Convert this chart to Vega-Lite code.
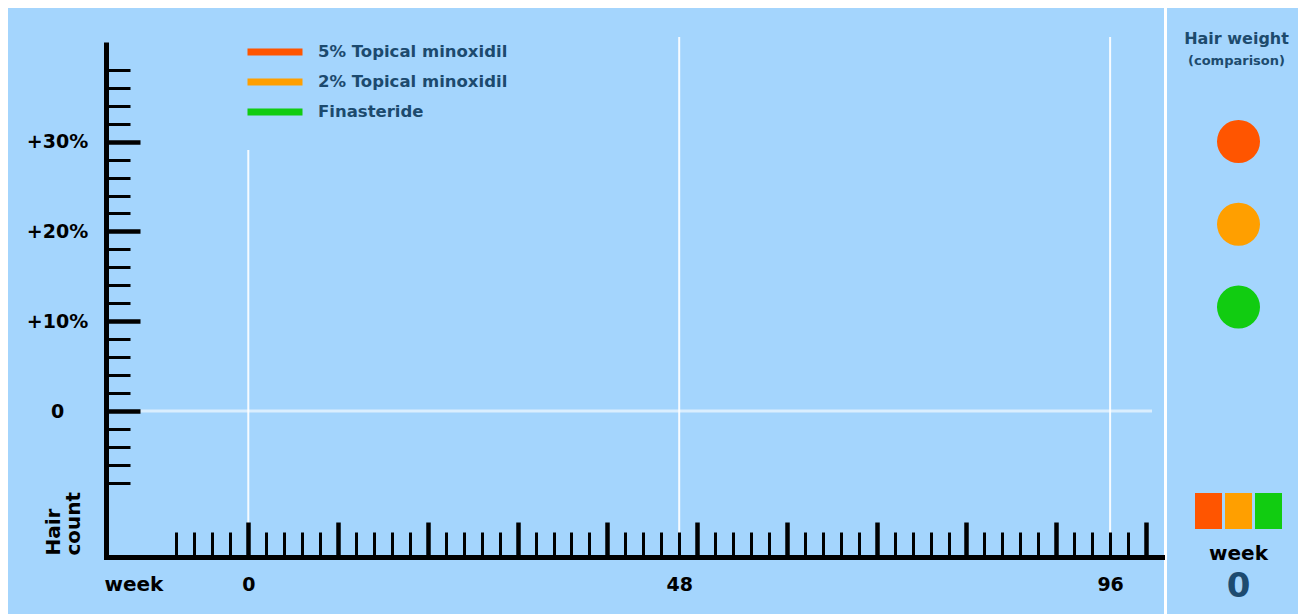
{
  "$schema": "https://vega.github.io/schema/vega-lite/v6.json",
  "background": "#ffffff",
  "padding": {"left": 8, "top": 8, "right": 0, "bottom": 0},
  "config": {"view": {"fill": "#a4d5fd", "stroke": null}, "font": "DejaVu Sans"},
  "spacing": 3,
  "bounds": "flush",
  "resolve": {"scale": {"color": "independent", "x": "independent", "y": "independent"}, "legend": {"color": "independent"}},
  "hconcat": [
    {
      "width": 1156,
      "height": 606,
      "layer": [
        {
          "data": {"values": [{"series": "5% Topical minoxidil", "week": 0, "change": 0}, {"series": "2% Topical minoxidil", "week": 0, "change": 0}, {"series": "Finasteride", "week": 0, "change": 0}]},
          "mark": {"type": "line", "strokeWidth": 6},
          "encoding": {
            "x": {
              "field": "week", "type": "quantitative",
              "scale": {"domain": [-15.85, 101.78], "range": [98, 1154], "nice": false, "zero": false},
              "axis": {
                "orient": "bottom", "offset": -57, "tickCount": 200,
                "values": [-8,-6,-4,-2,0,2,4,6,8,10,12,14,16,18,20,22,24,26,28,30,32,34,36,38,40,42,44,46,48,50,52,54,56,58,60,62,64,66,68,70,72,74,76,78,80,82,84,86,88,90,92,94,96,98,100],
                "domain": true, "domainColor": "#000000", "domainWidth": 5, "domainCap": "square",
                "ticks": true, "tickColor": "#000000",
                "tickSize": {"condition": {"test": "datum.value % 10 === 0", "value": -35}, "value": -25},
                "tickWidth": {"condition": {"test": "datum.value % 10 === 0", "value": 4.5}, "value": 3},
                "labelPadding": {"condition": {"test": "datum.value % 10 === 0", "value": 62}, "value": 52},
                "labelExpr": "indexof([0, 48, 96], datum.value) >= 0 ? '' + datum.value : ''",
                "labelFont": "DejaVu Sans", "labelFontSize": 19, "labelFontWeight": "bold", "labelColor": "#000000",
                "labelBaseline": "middle", "labelAlign": "center", "labelFlush": false, "labelOverlap": false,
                "grid": false,
                "title": "week", "titleX": 96, "titleY": 27, "titleAlign": "left", "titleBaseline": "middle",
                "titleFont": "DejaVu Sans", "titleFontSize": 20, "titleFontWeight": "bold", "titleColor": "#000000",
                "zindex": 1
              }
            },
            "y": {
              "field": "change", "type": "quantitative",
              "scale": {"domain": [-16.26, 41.1], "range": [549, 34], "nice": false, "zero": false},
              "axis": {
                "orient": "left", "offset": -98, "tickCount": 200,
                "values": [-8,-6,-4,-2,0,2,4,6,8,10,12,14,16,18,20,22,24,26,28,30,32,34,36,38],
                "domain": true, "domainColor": "#000000", "domainWidth": 5, "domainCap": "butt",
                "ticks": true, "tickColor": "#000000",
                "tickSize": {"condition": {"test": "datum.value % 10 === 0", "value": -34}, "value": -24},
                "tickWidth": {"condition": {"test": "datum.value % 10 === 0", "value": 4.5}, "value": 3},
                "labelPadding": {"condition": {"test": "datum.value % 10 === 0", "value": 83}, "value": 73},
                "labelExpr": "datum.value === 0 ? '0' : (datum.value > 0 && datum.value % 10 === 0 ? '+' + datum.value + '%' : '')",
                "labelFont": "DejaVu Sans", "labelFontSize": 19, "labelFontWeight": "bold", "labelColor": "#000000",
                "labelBaseline": "middle", "labelAlign": "center", "labelFlush": false, "labelOverlap": false,
                "grid": false,
                "title": ["Hair", "count"], "titleAngle": 270, "titleX": -63, "titleY": 547,
                "titleAlign": "left", "titleBaseline": "top", "titleLineHeight": 20,
                "titleFont": "DejaVu Sans", "titleFontSize": 20, "titleFontWeight": "bold", "titleColor": "#000000",
                "zindex": 1
              }
            },
            "color": {
              "field": "series", "type": "nominal",
              "scale": {"domain": ["5% Topical minoxidil", "2% Topical minoxidil", "Finasteride"], "range": ["#ff5500", "#ff9f00", "#11cc11"]},
              "legend": {
                "orient": "none", "legendX": 236, "legendY": 29, "title": null, "padding": 0,
                "symbolType": "stroke", "symbolSize": 3025, "symbolStrokeWidth": 7, "symbolOpacity": 1,
                "clipHeight": 30, "rowPadding": 0, "labelOffset": 12, "labelLimit": 0,
                "labelFont": "DejaVu Sans", "labelFontSize": 16.5, "labelFontWeight": "bold", "labelColor": "#1c4a6e"
              }
            }
          }
        },
        {
          "data": {"values": [{"week": 48}, {"week": 96}]},
          "mark": {"type": "rule", "color": "#ffffff", "strokeWidth": 2, "opacity": 0.9},
          "encoding": {
            "x": {"field": "week", "type": "quantitative"},
            "y": {"datum": 41.66, "type": "quantitative"},
            "y2": {"datum": -16.26}
          }
        },
        {
          "data": {"values": [{"week": 0}]},
          "mark": {"type": "rule", "color": "#ffffff", "strokeWidth": 2, "opacity": 0.9},
          "encoding": {
            "x": {"field": "week", "type": "quantitative"},
            "y": {"datum": 29.07, "type": "quantitative"},
            "y2": {"datum": -16.26}
          }
        },
        {
          "data": {"values": [{"change": 0}]},
          "mark": {"type": "rule", "color": "#ffffff", "strokeWidth": 3, "opacity": 0.6},
          "encoding": {
            "y": {"field": "change", "type": "quantitative"},
            "x": {"datum": -12.06, "type": "quantitative"},
            "x2": {"datum": 100.67}
          }
        }
      ]
    },
    {
      "width": 131,
      "height": 606,
      "title": {
        "text": "Hair weight", "subtitle": "(comparison)", "anchor": "middle", "offset": -60, "dx": 4,
        "font": "DejaVu Sans", "fontSize": 16, "fontWeight": "bold", "color": "#1d4b6d",
        "subtitleFont": "DejaVu Sans", "subtitleFontSize": 13, "subtitleFontWeight": "bold", "subtitleColor": "#1d4b6d",
        "subtitlePadding": 8
      },
      "resolve": {"scale": {"x": "independent", "y": "independent", "color": "independent", "size": "independent"}},
      "layer": [
        {
          "data": {"values": [{"series": "5% Topical minoxidil"}, {"series": "2% Topical minoxidil"}, {"series": "Finasteride"}]},
          "mark": {"type": "circle", "size": 1850, "opacity": 1, "xOffset": 6},
          "encoding": {
            "y": {"field": "series", "type": "nominal", "scale": {"domain": ["5% Topical minoxidil", "2% Topical minoxidil", "Finasteride"], "range": [133.5, 299], "padding": 0}, "axis": null},
            "color": {"field": "series", "type": "nominal", "scale": {"domain": ["5% Topical minoxidil", "2% Topical minoxidil", "Finasteride"], "range": ["#ff5500", "#ff9f00", "#11cc11"]}, "legend": null}
          }
        },
        {
          "data": {"values": [{"series": "5% Topical minoxidil", "week": 0}, {"series": "2% Topical minoxidil", "week": 0}, {"series": "Finasteride", "week": 0}]},
          "mark": {"type": "rect"},
          "encoding": {
            "x": {"field": "series", "type": "nominal", "scale": {"domain": ["5% Topical minoxidil", "2% Topical minoxidil", "Finasteride"], "range": [28, 115], "paddingInner": 0.1, "paddingOuter": 0}, "axis": null},
            "y": {"field": "week", "type": "ordinal", "scale": {"range": [485, 521], "paddingInner": 0, "paddingOuter": 0}, "axis": null},
            "color": {"field": "series", "type": "nominal", "scale": {"domain": ["5% Topical minoxidil", "2% Topical minoxidil", "Finasteride"], "range": ["#ff5500", "#ff9f00", "#11cc11"]}, "legend": null}
          }
        },
        {
          "data": {"values": [{"item": "label", "text": "week"}, {"item": "value", "text": "0"}]},
          "mark": {"type": "text", "font": "DejaVu Sans", "fontWeight": "bold", "baseline": "middle", "align": "center", "dx": 6},
          "encoding": {
            "y": {"field": "item", "type": "nominal", "scale": {"domain": ["label", "value"], "range": [546, 579], "padding": 0}, "axis": null},
            "text": {"field": "text"},
            "size": {"field": "item", "type": "ordinal", "scale": {"domain": ["label", "value"], "range": [20, 34]}, "legend": null},
            "color": {"field": "item", "type": "ordinal", "scale": {"domain": ["label", "value"], "range": ["#000000", "#1d4b70"]}, "legend": null}
          }
        }
      ]
    }
  ]
}
